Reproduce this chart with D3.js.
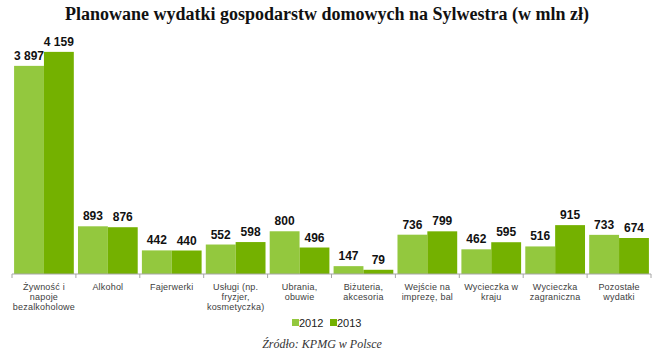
<!DOCTYPE html>
<html><head><meta charset="utf-8">
<script src="https://cdn.jsdelivr.net/npm/d3@7"></script>
<style>body{margin:0;background:#fff}svg{display:block}</style>
</head><body>
<script>
const categories = [
  ["Żywność i","napoje","bezalkoholowe"],
  ["Alkohol"],
  ["Fajerwerki"],
  ["Usługi (np.","fryzjer,","kosmetyczka)"],
  ["Ubrania,","obuwie"],
  ["Biżuteria,","akcesoria"],
  ["Wejście na","imprezę, bal"],
  ["Wycieczka w","kraju"],
  ["Wycieczka","zagraniczna"],
  ["Pozostałe","wydatki"]
];
const series = ["2012","2013"];
const values2012 = [3897, 893, 442, 552, 800, 147, 736, 462, 516, 733];
const values2013 = [4159, 876, 440, 598, 496, 79, 799, 595, 915, 674];
const labels2012 = ["3 897","893","442","552","800","147","736","462","516","733"];
const labels2013 = ["4 159","876","440","598","496","79","799","595","915","674"];
const colors = ["#93C83E","#74B100"];

const W = 655, H = 356;
const svg = d3.select("body").append("svg").attr("width", W).attr("height", H);

svg.append("text").attr("x", 327).attr("y", 20).attr("text-anchor","middle")
  .attr("font-family","Liberation Serif, Times New Roman, serif").attr("font-weight","bold")
  .attr("font-size", 18).attr("fill","#111")
  .text("Planowane wydatki gospodarstw domowych na Sylwestra (w mln zł)");

const x0 = d3.scaleBand().domain(d3.range(categories.length)).range([12, 651]).paddingInner(0).paddingOuter(0);
const x1 = d3.scaleBand().domain(series).range([0, x0.bandwidth()]).paddingInner(0).paddingOuter(0.07);
const y = d3.scaleLinear().domain([0, 4400]).range([274, 39]);

const data = categories.map((c, i) => ({i, vals: [values2012[i], values2013[i]], labs: [labels2012[i], labels2013[i]]}));

const g = svg.append("g");
const groups = g.selectAll("g.cat").data(data).join("g").attr("transform", d => `translate(${x0(d.i)},0)`);
series.forEach((s, k) => {
  groups.append("rect").attr("x", x1(s)).attr("width", x1.bandwidth())
    .attr("y", d => y(d.vals[k])).attr("height", d => y(0) - y(d.vals[k])).attr("fill", colors[k]);
  groups.append("text").attr("x", x1(s) + x1.bandwidth()/2).attr("y", d => y(d.vals[k]) - 6)
    .attr("text-anchor","middle").attr("font-family","Liberation Sans, Arial, sans-serif")
    .attr("font-weight","bold").attr("font-size", 12).attr("fill","#111").text(d => d.labs[k]);
});

// axis
const ax = svg.append("g").attr("transform","translate(0,274)");
ax.append("line").attr("x1",12).attr("x2",651).attr("stroke","#a6a6a6");
const bounds = d3.range(categories.length + 1).map(i => i < categories.length ? x0(i) : x0(i-1) + x0.bandwidth());
ax.selectAll("line.t").data(bounds).join("line").attr("class","t")
  .attr("x1", d => d).attr("x2", d => d).attr("y1",0).attr("y2",4).attr("stroke","#a6a6a6");

// category labels
const cl = svg.append("g");
data.forEach(d => {
  const t = cl.append("text").attr("text-anchor","middle").attr("font-family","Liberation Sans, Arial, sans-serif")
    .attr("font-size", 9).attr("fill","#404040").attr("letter-spacing", 0.2);
  categories[d.i].forEach((line, j) => {
    t.append("tspan").attr("x", x0(d.i) + x0.bandwidth()/2).attr("y", 290 + j*10).text(line);
  });
});

// legend
const lg = svg.append("g").attr("font-family","Liberation Sans, Arial, sans-serif").attr("font-size", 11).attr("fill","#222");
const lx = [292, 330];
series.forEach((s, k) => {
  lg.append("rect").attr("x", lx[k]).attr("y", 319).attr("width", 7).attr("height", 7).attr("fill", colors[k]);
  lg.append("text").attr("x", lx[k] + 7).attr("y", 327).text(s);
});

svg.append("text").attr("x", 322).attr("y", 348).attr("text-anchor","middle")
  .attr("font-family","Liberation Serif, Times New Roman, serif").attr("font-style","italic")
  .attr("font-size", 12).attr("fill","#333").text("Źródło: KPMG w Polsce");
</script>
</body></html>
